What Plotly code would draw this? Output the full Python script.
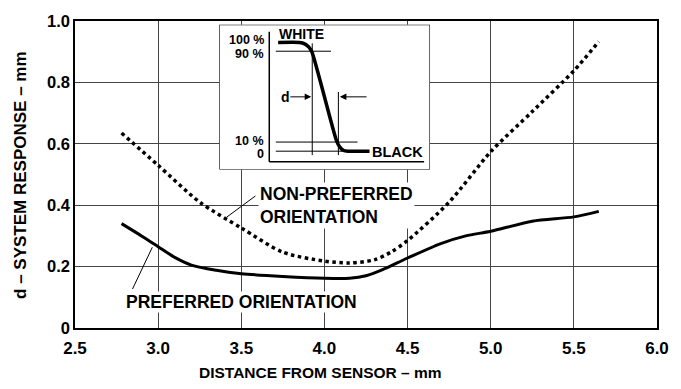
import plotly.graph_objects as go

# Main data
pref_x = [2.78, 2.9, 3.0, 3.1, 3.2, 3.35, 3.5, 3.75, 4.0, 4.15, 4.25, 4.35, 4.5, 4.7, 4.85, 5.0, 5.25, 5.5, 5.65]
pref_y = [0.34, 0.30, 0.265, 0.23, 0.205, 0.188, 0.177, 0.168, 0.162, 0.162, 0.17, 0.19, 0.228, 0.275, 0.30, 0.315, 0.348, 0.362, 0.38]

nonpref_x = [2.78, 3.0, 3.25, 3.5, 3.75, 4.0, 4.15, 4.3, 4.4, 4.5, 4.75, 5.0, 5.25, 5.5, 5.65]
nonpref_y = [0.635, 0.53, 0.41, 0.326, 0.247, 0.218, 0.212, 0.222, 0.247, 0.285, 0.41, 0.574, 0.705, 0.838, 0.933]

x_ticks = [2.5, 3.0, 3.5, 4.0, 4.5, 5.0, 5.5, 6.0]
x_tick_text = ["2.5", "3.0", "3.5", "4.0", "4.5", "5.0", "5.5", "6.0"]
y_ticks = [0, 0.2, 0.4, 0.6, 0.8, 1.0]
y_tick_text = ["0", "0.2", "0.4", "0.6", "0.8", "1.0"]

# Inset schematic (normalized inset coordinates)
inset_curve_u = [0.279, 0.38, 0.405, 0.425, 0.44, 0.556, 0.572, 0.59, 0.61, 0.713]
inset_curve_v = [0.877, 0.877, 0.868, 0.845, 0.81, 0.20, 0.155, 0.132, 0.127, 0.127]

FONT = "Liberation Sans, Arial, Helvetica, sans-serif"

fig = go.Figure()

fig.add_trace(go.Scatter(x=nonpref_x, y=nonpref_y, mode="lines", line=dict(color="black", width=3.5, dash="dot", shape="spline", smoothing=0.8), hoverinfo="skip"))
fig.add_trace(go.Scatter(x=pref_x, y=pref_y, mode="lines", line=dict(color="black", width=3, shape="spline", smoothing=0.8), hoverinfo="skip"))

# inset curve
fig.add_trace(go.Scatter(x=inset_curve_u, y=inset_curve_v, xaxis="x2", yaxis="y2", mode="lines", line=dict(color="black", width=3.5, shape="spline", smoothing=0.6), hoverinfo="skip"))

shapes = []
# inset box (drawn in inset subplot, below its traces)
shapes.append(dict(type="rect", xref="x2", yref="y2", x0=0, x1=1, y0=0, y1=1, fillcolor="white", line=dict(color="black", width=1.2), layer="below"))
thin = dict(color="black", width=1)
def iline(u0, v0, u1, v1, w=1):
    shapes.append(dict(type="line", xref="x2", yref="y2", x0=u0, y0=v0, x1=u1, y1=v1, line=dict(color="black", width=w)))
iline(0.237, 0.951, 0.237, 0.054, 1.5)
iline(0.237, 0.054, 0.972, 0.054, 1.5)
iline(0.268, 0.817, 0.530, 0.817)
iline(0.268, 0.190, 0.656, 0.190)
iline(0.268, 0.127, 0.62, 0.127)
iline(0.441, 0.871, 0.441, 0.100)
iline(0.565, 0.536, 0.565, 0.100)
# leader lines for main annotations
shapes.append(dict(type="line", xref="x", yref="y", x0=3.585, y0=0.430, x1=3.412, y1=0.361, line=thin))
shapes.append(dict(type="line", xref="x", yref="y", x0=2.965, y0=0.263, x1=2.846, y1=0.127, line=thin))

annotations = []
def itext(u, v, s, anchor, size=13.5):
    annotations.append(dict(xref="x2", yref="y2", x=u, y=v, text=s, showarrow=False, xanchor=anchor, yanchor="middle",
                            font=dict(family=FONT, size=size, color="black"), borderpad=0))
itext(0.217, 0.893, "<b>100 %</b>", "right", 12.5)
itext(0.217, 0.800, "<b>90 %</b>", "right", 12.5)
itext(0.217, 0.200, "<b>10 %</b>", "right", 12.5)
itext(0.217, 0.110, "<b>0</b>", "right", 12.5)
itext(0.279, 0.935, "<b>WHITE</b>", "left", 14)
itext(0.722, 0.118, "<b>BLACK</b>", "left", 14.5)
itext(0.29, 0.502, "<b>d</b>", "left", 14)
# arrows
annotations.append(dict(xref="x2", yref="y2", axref="x2", ayref="y2", x=0.436, y=0.502, ax=0.330, ay=0.502, text="", showarrow=True, arrowhead=2, arrowsize=1.3, arrowwidth=1, arrowcolor="black"))
annotations.append(dict(xref="x2", yref="y2", axref="x2", ayref="y2", x=0.572, y=0.502, ax=0.706, ay=0.502, text="", showarrow=True, arrowhead=2, arrowsize=1.3, arrowwidth=1, arrowcolor="black"))

annotations.append(dict(xref="x", yref="y", x=3.60, y=0.40, text="<b>NON-PREFERRED<br>ORIENTATION</b>", showarrow=False, xanchor="left", yanchor="middle", align="left",
                        font=dict(family=FONT, size=17.5, color="black"), bgcolor="white", borderpad=1))
annotations.append(dict(xref="x", yref="y", x=2.80, y=0.085, text="<b>PREFERRED ORIENTATION</b>", showarrow=False, xanchor="left", yanchor="middle",
                        font=dict(family=FONT, size=17.5, color="black"), bgcolor="white", borderpad=0))

# axis titles as annotations (x title is left of centre in reference)
annotations.append(dict(xref="paper", yref="paper", x=(323 - 75) / 587, y=(328 - 374) / 316, text="<b>DISTANCE FROM SENSOR – mm</b>",
                        showarrow=False, xanchor="center", yanchor="middle", font=dict(family=FONT, size=15.5, color="black")))
annotations.append(dict(xref="paper", yref="paper", x=(20 - 75) / 587, y=(328 - 170) / 316, text="<b>d – SYSTEM RESPONSE – mm</b>", textangle=-90,
                        showarrow=False, xanchor="center", yanchor="middle", font=dict(family=FONT, size=17, color="black")))

fig.update_layout(
    width=681, height=389,
    margin=dict(l=75, r=19, t=12, b=61),
    paper_bgcolor="white", plot_bgcolor="white",
    showlegend=False,
    font=dict(family=FONT, color="black"),
    xaxis=dict(range=[2.5, 6.0], tickvals=x_ticks, ticktext=["<b>%s</b>" % t for t in x_tick_text],
               showgrid=True, gridcolor="#444", gridwidth=1, zeroline=False,
               showline=True, linecolor="black", linewidth=1.5, mirror=True, ticks="",
               ticklabelstandoff=4,
               tickfont=dict(family=FONT, size=17, color="black")),
    yaxis=dict(range=[0, 1.0], tickvals=y_ticks, ticktext=["<b>%s</b>" % t for t in y_tick_text],
               showgrid=True, gridcolor="#444", gridwidth=1, zeroline=False,
               showline=True, linecolor="black", linewidth=1.5, mirror=True, ticks="",
               tickfont=dict(family=FONT, size=16.5, color="black")),
    xaxis2=dict(domain=[0.248, 0.610], anchor="y2", range=[0, 1], visible=False, fixedrange=True),
    yaxis2=dict(domain=[0.516, 0.988], anchor="x2", range=[0, 1], visible=False, fixedrange=True),
    shapes=shapes,
    annotations=annotations,
)

fig.write_html("out.html")
